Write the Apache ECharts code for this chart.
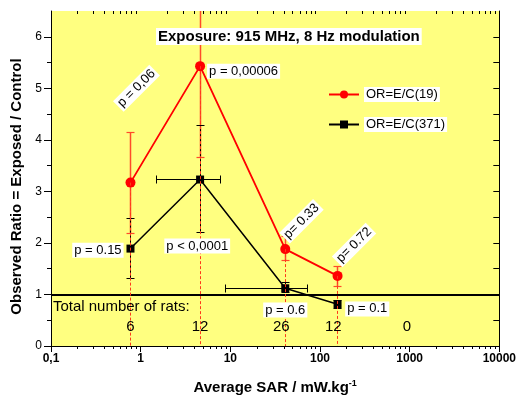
<!DOCTYPE html>
<html><head><meta charset="utf-8">
<script src="https://cdn.jsdelivr.net/npm/echarts@6/dist/echarts.min.js"></script>
<style>html,body{margin:0;padding:0;background:#fff}#c{width:519px;height:403px}</style>
</head><body><div id="c"></div>
<script>
// ---- data ----
const sar = [0.77, 4.6, 41, 157];
const orRed = [3.17, 5.43, 1.88, 1.36];
const redLow = [2.18, 3.66, 1.65, 1.15];
const redHigh = [4.14, 7.5, 2.12, 1.55];
const orBlack = [1.89, 3.23, 1.12, 0.81];
const blackLow = [1.31, 2.21, 1.03, 0.73];
const blackHigh = [2.47, 4.27, 1.23, 0.89];
const blackSarLow = [0, 1.5, 8.9, 0];
const blackSarHigh = [0, 7.7, 73, 0];
const ratCounts = ['6', '12', '26', '12', '0'];
const ratSar = [0.77, 4.6, 37, 141, 930];
const ratHeader = 'Total number of rats:';
const xTickLabels = ['0,1', '1', '10', '100', '1000', '10000'];
const yTicks = [0, 1, 2, 3, 4, 5, 6];
const yRightTicks = [0, 0.5, 1, 1.5, 2, 2.5, 3, 3.5, 4, 4.5, 5, 5.5, 6];
const yMinor = [0.5, 1.5, 2.5, 3.5, 4.5, 5.5];
const xDecades = [0.1, 1, 10, 100, 1000];
const pTexts = ['p = 0,06', 'p = 0,00006', 'p = 0.15', 'p < 0,0001', 'p = 0.6', 'p = 0.1', 'p= 0.33', 'p= 0.72'];
const pSar = [0.898, 5.5, 0.645, 1.836, 41, 191, 62.2, 240];
const pOR = [5.0, 5.33, 1.86, 1.94, 0.70, 0.72, 2.42, 1.96];
// label styling (not data)
const pAlign = ['center', 'left', 'right', 'left', 'center', 'left', 'center', 'center'];
const pRot = [45, 0, 0, 0, 0, 0, 45, 45];

const FONT = '"Liberation Sans", Arial, sans-serif';
const xMinor = [];
xDecades.forEach(d => { for (let m = 2; m <= 9; m++) xMinor.push(+(d * m).toPrecision(3)); });

const chart = echarts.init(document.getElementById('c'), null, {renderer: 'canvas'});

function ln(x1, y1, x2, y2, color, w, dash) {
  return {type: 'line', shape: {x1, y1, x2, y2}, style: {stroke: color, lineWidth: w, lineDash: dash || null}};
}
const r5 = v => Math.round(v - 0.5) + 0.5;

const option = {
  animation: false,
  textStyle: {fontFamily: FONT},
  title: {
    text: 'Exposure: 915 MHz, 8 Hz modulation',
    left: 156, top: 28, padding: [1, 2], backgroundColor: '#fff',
    textStyle: {fontSize: 15, fontWeight: 'bold', color: '#000', fontFamily: FONT}
  },
  legend: {
    data: ['OR=E/C(19)', 'OR=E/C(371)'],
    orient: 'vertical', left: 328, top: 87, padding: 0,
    itemWidth: 30, itemHeight: 10, itemGap: 15,
    textStyle: {fontSize: 13, color: '#000', fontFamily: FONT, backgroundColor: '#fff', padding: [1, 2]}
  },
  grid: {left: 51, right: 17, top: 11, bottom: 57, show: true, backgroundColor: '#ffff80', borderWidth: 0},
  xAxis: [{
    type: 'log', logBase: 10, min: 0.1, max: 10000, position: 'bottom',
    axisLine: {lineStyle: {color: '#000', width: 1}},
    axisTick: {inside: false, length: 5, lineStyle: {color: '#000'}},
    axisLabel: {margin: 7, fontSize: 12, fontWeight: 'bold', color: '#000', fontFamily: FONT,
      formatter: (v, i) => xTickLabels[i] !== undefined ? xTickLabels[i] : String(v)},
    splitLine: {show: false},
    name: '{a|Average SAR / mW.kg}{b|-1}',
    nameLocation: 'middle', nameGap: 33,
    nameTextStyle: {rich: {
      a: {fontSize: 15, fontWeight: 'bold', color: '#000', fontFamily: FONT, lineHeight: 18},
      b: {fontSize: 9, fontWeight: 'bold', color: '#000', fontFamily: FONT, verticalAlign: 'top', lineHeight: 18}
    }}
  }, {
    type: 'log', logBase: 10, min: 0.1, max: 10000, position: 'top',
    axisLine: {lineStyle: {color: '#000', width: 1}},
    axisTick: {inside: true, length: 6, lineStyle: {color: '#000'}},
    axisLabel: {show: false}, splitLine: {show: false}
  }],
  yAxis: [{
    type: 'value', min: 0, max: 6.5, interval: 1, position: 'left',
    axisLine: {show: true, lineStyle: {color: '#000', width: 1}},
    axisTick: {show: true, inside: false, length: 7, customValues: yTicks, lineStyle: {color: '#000'}},
    axisLabel: {margin: 9, fontSize: 12, color: '#000', fontFamily: FONT, customValues: yTicks},
    splitLine: {show: false},
    name: 'Observed Ratio = Exposed / Control',
    nameLocation: 'middle', nameGap: 27,
    nameTextStyle: {fontSize: 15, fontWeight: 'bold', color: '#000', fontFamily: FONT, padding: [0, 16, 0, 0]}
  }, {
    type: 'value', min: 0, max: 6.5, interval: 1, position: 'right',
    axisLine: {show: true, lineStyle: {color: '#000', width: 1}},
    axisTick: {show: true, inside: true, length: 6, customValues: yRightTicks, lineStyle: {color: '#000'}},
    axisLabel: {show: false}, splitLine: {show: false}
  }],
  series: [
    { // minor ticks
      type: 'custom', name: 'minorTicks', silent: true, z: 1,
      data: [[1, 0]], encode: {x: 0, y: 1},
      renderItem: (params, api) => {
        const cs = params.coordSys;
        const top = cs.y, bottom = cs.y + cs.height, left = cs.x;
        const ch = [];
        xMinor.forEach(v => {
          const px = r5(api.coord([v, 0])[0]);
          ch.push(ln(px, bottom, px, bottom + 3, '#000', 1));
          ch.push(ln(px, top, px, top + 3, '#000', 1));
        });
        yMinor.forEach(v => {
          const py = r5(api.coord([1, v])[1]);
          ch.push(ln(left - 4, py, left, py, '#000', 1));
        });
        return {type: 'group', children: ch};
      }
    },
    { // red error bars
      type: 'custom', name: 'redErr', silent: true, z: 3,
      data: sar.map((x, i) => [x, redLow[i], redHigh[i]]),
      encode: {x: 0, y: [1, 2]},
      renderItem: (params, api) => {
        const cs = params.coordSys;
        const x = api.value(0);
        const pLo = api.coord([x, api.value(1)]);
        const pHi = api.coord([x, api.value(2)]);
        const px = r5(pLo[0]);
        const ch = [];
        let yHi = pHi[1], capHi = true;
        if (yHi < cs.y) { yHi = cs.y; capHi = false; }
        ch.push(ln(px, pLo[1], px, yHi, '#ff4a2a', 1.5));
        ch.push(ln(px - 4, r5(pLo[1]), px + 4, r5(pLo[1]), '#ff4a2a', 1.2));
        if (capHi) ch.push(ln(px - 4, r5(yHi), px + 4, r5(yHi), '#ff4a2a', 1.2));
        return {type: 'group', children: ch};
      }
    },
    { // black error bars
      type: 'custom', name: 'blackErr', silent: true, z: 3,
      data: sar.map((x, i) => [x, orBlack[i], blackLow[i], blackHigh[i], blackSarLow[i], blackSarHigh[i]]),
      encode: {x: 0, y: 1},
      renderItem: (params, api) => {
        const x = api.value(0), y = api.value(1);
        const pLo = api.coord([x, api.value(2)]);
        const pHi = api.coord([x, api.value(3)]);
        const px = r5(pLo[0]);
        const ch = [];
        ch.push(ln(px, pLo[1], px, pHi[1], '#000', 1));
        ch.push(ln(px - 4, r5(pLo[1]), px + 4, r5(pLo[1]), '#000', 1));
        ch.push(ln(px - 4, r5(pHi[1]), px + 4, r5(pHi[1]), '#000', 1));
        const xl = api.value(4), xh = api.value(5);
        if (xl > 0 && xh > 0) {
          const a = api.coord([xl, y]), b = api.coord([xh, y]);
          const py = r5(a[1]);
          ch.push(ln(a[0], py, b[0], py, '#000', 1));
          ch.push(ln(r5(a[0]), py - 4, r5(a[0]), py + 4, '#000', 1));
          ch.push(ln(r5(b[0]), py - 4, r5(b[0]), py + 4, '#000', 1));
        }
        return {type: 'group', children: ch};
      }
    },
    {
      type: 'line', name: 'OR=E/C(371)', z: 4,
      data: sar.map((x, i) => [x, orBlack[i]]),
      lineStyle: {color: '#000', width: 1.5},
      itemStyle: {color: '#000'},
      symbol: 'rect', symbolSize: 8, showSymbol: true,
      markLine: {
        silent: true, symbol: 'none', label: {show: false},
        lineStyle: {color: '#000', width: 2, type: 'solid'},
        data: [{yAxis: 1}]
      }
    },
    {
      type: 'line', name: 'OR=E/C(19)', z: 5,
      data: sar.map((x, i) => [x, orRed[i]]),
      lineStyle: {color: '#ff0000', width: 1.8},
      itemStyle: {color: '#ff0000'},
      symbol: 'circle', symbolSize: 10, showSymbol: true
    },
    { // dashed drop lines
      type: 'custom', name: 'drops', silent: true, z: 6,
      data: sar.map((x, i) => [x, orRed[i]]),
      encode: {x: 0, y: 1},
      renderItem: (params, api) => {
        const p = api.coord([api.value(0), api.value(1)]);
        const b = api.coord([api.value(0), 0]);
        const px = r5(p[0]);
        return ln(px, p[1], px, b[1], '#ff3a1a', 1, [3, 2]);
      }
    },
    { // rat counts
      type: 'custom', name: 'rats', silent: true, z: 7,
      data: ratSar.map((x, i) => [x, 0.37, i]).concat([[0.105, 0.756, -1]]),
      encode: {x: 0, y: 1},
      renderItem: (params, api) => {
        const i = api.value(2);
        const p = api.coord([api.value(0), api.value(1)]);
        return {type: 'text', x: p[0], y: p[1], style: {
          text: i < 0 ? ratHeader : ratCounts[i], fill: '#000',
          font: '15px ' + FONT, align: i < 0 ? 'left' : 'center', verticalAlign: 'middle'}};
      }
    },
    { // p annotations
      type: 'custom', name: 'pvals', silent: true, z: 8,
      data: pSar.map((x, i) => [x, pOR[i], i]),
      encode: {x: 0, y: 1},
      renderItem: (params, api) => {
        const i = api.value(2);
        const p = api.coord([api.value(0), api.value(1)]);
        return {type: 'text', x: p[0], y: p[1], rotation: pRot[i] * Math.PI / 180, style: {
          text: pTexts[i], fill: '#000', font: '13px ' + FONT,
          align: pAlign[i], verticalAlign: 'middle', backgroundColor: '#fff', padding: [1, 2]}};
      }
    }
  ]
};
chart.setOption(option);
</script></body></html>
